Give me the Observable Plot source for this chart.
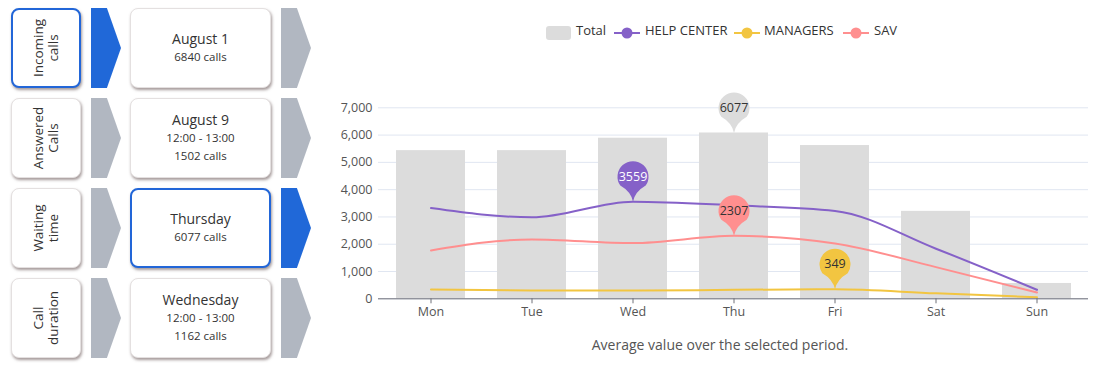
<!DOCTYPE html>
<html><head><meta charset="utf-8">
<script src="https://cdn.jsdelivr.net/npm/d3@7"></script>
<script src="https://cdn.jsdelivr.net/npm/@observablehq/plot@0.6"></script>
<style>
body{margin:0;width:1100px;height:367px;position:relative;background:#fff;font-family:"Open Sans",sans-serif;overflow:hidden}
.card{position:absolute;background:#fff;border-radius:8px;box-sizing:border-box;border:1px solid #e4e0e0;box-shadow:1px 2px 3px rgba(90,70,70,.55);color:#333}
.card.sel{border:2px solid #2266d8}
.chev{position:absolute;width:30px;height:80px;background:#b1b7c1;clip-path:polygon(0 0,53% 0,100% 50%,53% 100%,0 100%)}
.chev.sel{background:#2068d8}
.rot{position:absolute;left:50%;top:50%;transform:translate(-50%,-50%) rotate(-90deg);text-align:center;font-size:13.5px;line-height:15px;white-space:nowrap}
.mid{position:absolute;inset:0;display:flex;flex-direction:column;align-items:center;justify-content:center}
.mid div{line-height:18px;font-size:11.5px}
.mid div:first-child{font-size:14px}
.leg{position:absolute;top:22px;font-size:13px;color:#333;line-height:16px;font-family:"Open Sans",sans-serif}
#chart{position:absolute;left:320px;top:80px}
#caption{position:absolute;left:320px;width:800px;top:335px;text-align:center;font-size:14px;color:#555}
</style></head>
<body>
<div id="chart"></div>
<div id="caption">Average value over the selected period.</div>
<script>
const days = ["Mon","Tue","Wed","Thu","Fri","Sat","Sun"];
const total = [5430, 5430, 5885, 6077, 5617, 3205, 562];
const helpCenter = [3326, 2985, 3559, 3425, 3220, 1835, 330];
const managers = [340, 305, 300, 330, 349, 200, 60];
const sav = [1773, 2177, 2041, 2307, 2030, 1160, 231];
const seriesNames = ["Total","HELP CENTER","MANAGERS","SAV"];
const seriesColors = ["#dcdcdc","#8561c8","#f2c541","#ff8f8f"];
const yTicks = [0,1000,2000,3000,4000,5000,6000,7000];

const leftLabels = [["Incoming","calls"],["Answered","Calls"],["Waiting","time"],["Call","duration"]];
const midLines = [["August 1","6840 calls"],["August 9","12:00 - 13:00","1502 calls"],["Thursday","6077 calls"],["Wednesday","12:00 - 13:00","1162 calls"]];
const selectedLeft = [0];
const selectedMid = [2];

// left panel
leftLabels.forEach((lab,i)=>{
  const top = 8 + i*90;
  const c = document.createElement("div");
  c.className = "card" + (selectedLeft.includes(i) ? " sel":"");
  Object.assign(c.style,{left:"11px",top:top+"px",width:"70px",height:"80px"});
  const r = document.createElement("div"); r.className="rot"; r.innerHTML = lab.join("<br>");
  c.appendChild(r); document.body.appendChild(c);
  const ch = document.createElement("div");
  ch.className = "chev" + (selectedLeft.includes(i) ? " sel":"");
  Object.assign(ch.style,{left:"91px",top:top+"px"}); document.body.appendChild(ch);
  const m = document.createElement("div");
  m.className = "card" + (selectedMid.includes(i) ? " sel":"");
  Object.assign(m.style,{left:"130px",top:top+"px",width:"141px",height:"80px"});
  const mi = document.createElement("div"); mi.className="mid";
  midLines[i].forEach(t=>{const d=document.createElement("div"); d.textContent=t; mi.appendChild(d);});
  m.appendChild(mi); document.body.appendChild(m);
  const ch2 = document.createElement("div");
  ch2.className = "chev" + (selectedMid.includes(i) ? " sel":"");
  Object.assign(ch2.style,{left:"281px",top:top+"px"}); document.body.appendChild(ch2);
});

// legend
const legPos = [[546,576],[614,645],[734,764],[843,874]];
seriesNames.forEach((n,i)=>{
  const [ix,tx] = legPos[i];
  const icon = document.createElement("div");
  icon.style.position="absolute"; icon.style.left=ix+"px"; icon.style.top="23px";
  icon.innerHTML = i===0
    ? `<svg width="25" height="14"><rect width="25" height="14" rx="3" fill="${seriesColors[0]}"/></svg>`
    : `<svg width="26" height="14"><line x1="0" x2="26" y1="7" y2="7" stroke="${seriesColors[i]}" stroke-width="2"/><circle cx="13" cy="7" r="5.5" fill="${seriesColors[i]}"/></svg>`;
  document.body.appendChild(icon);
  const t = document.createElement("div"); t.className="leg"; t.style.left=tx+"px"; t.textContent=n;
  document.body.appendChild(t);
});

const rows = days.map((d,i)=>({day:d,total:total[i],help:helpCenter[i],man:managers[i],sav:sav[i]}));
const pin = {draw(ctx){
  const cy = -25, R = 15.5;
  const a0 = 145*Math.PI/180, a1 = 395*Math.PI/180;
  ctx.moveTo(0,0);
  ctx.quadraticCurveTo(-2,-10, R*Math.cos(a0), cy + R*Math.sin(a0));
  ctx.arc(0,cy,R,a0,a1,false);
  ctx.quadraticCurveTo(2,-10,0,0);
  ctx.closePath();
}};
const seriesArr = [total, helpCenter, managers, sav];
const textColors = ["#333","#fff","#333","#333"];
const pinMarks = [];
seriesArr.forEach((arr,i)=>{
  const k = d3.maxIndex(arr);
  const p = [{day:days[k], v:arr[k]}];
  pinMarks.push(Plot.dot(p,{x:"day",y:"v",symbol:pin,r:10,fill:seriesColors[i],stroke:"none"}));
  pinMarks.push(Plot.text(p,{x:"day",y:"v",text:d=>String(d.v),dy:-25,fill:textColors[i],fontSize:12.5}));
});
const lineKeys = ["help","man","sav"];
const chart = Plot.plot({
  width:780, height:240,
  marginLeft:58, marginRight:12, marginTop:27.3, marginBottom:21.7,
  style:{fontFamily:"Open Sans, sans-serif", fontSize:"12.5px", background:"transparent"},
  x:{type:"band", domain:days, paddingInner:0.32, paddingOuter:0.16, label:null},
  y:{domain:[0,7000], label:null},
  marks:[
    Plot.gridY(yTicks,{stroke:"#e0e6f1",strokeOpacity:1}),
    Plot.barY(rows,{x:"day",y:"total",fill:seriesColors[0]}),
    ...lineKeys.map((k,i)=>Plot.line(rows,{x:"day",y:k,stroke:seriesColors[i+1],strokeWidth:2,curve:"monotone-x"})),
    Plot.ruleY([0],{stroke:"#6e7079"}),
    Plot.axisY({ticks:yTicks,tickFormat:d3.format(","),tickSize:0,tickPadding:6,fill:"#555",fontSize:12.5,label:null}),
    Plot.axisX({tickSize:5,tickPadding:3,stroke:"#6e7079",fill:"#555",fontSize:12.5,label:null}),
    ...pinMarks
  ]
});
document.getElementById("chart").appendChild(chart);
</script>
</body></html>
